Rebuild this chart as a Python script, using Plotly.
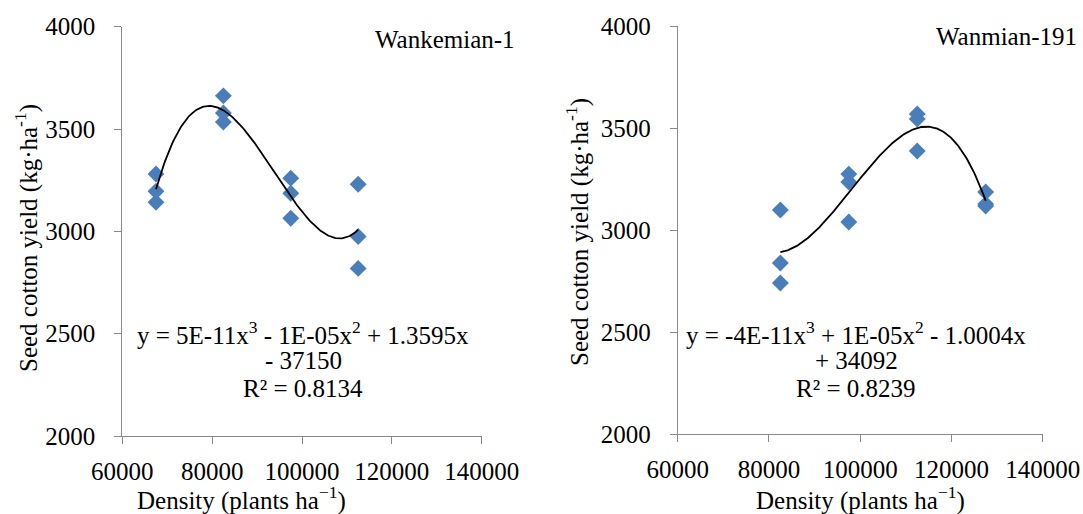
import numpy as np
import plotly.graph_objects as go

# ---- data ----
density_left = [67500, 67500, 67500, 82500, 82500, 82500, 97500, 97500, 97500, 112500, 112500, 112500]
yield_left = [3280, 3196, 3142, 3662, 3578, 3534, 3260, 3186, 3064, 3230, 2975, 2819]
density_right = [82500, 82500, 82500, 97500, 97500, 97500, 112500, 112500, 112500, 127500, 127500, 127500]
yield_right = [3098, 2838, 2740, 3274, 3235, 3039, 3569, 3544, 3387, 3186, 3127, 3118]

cultivar_left = "Wankemian-1"
cultivar_right = "Wanmian-191"
eq_left = ["y = 5E-11x<sup>3</sup> - 1E-05x<sup>2</sup> + 1.3595x", "- 37150", "R² = 0.8134"]
eq_right = ["y = -4E-11x<sup>3</sup> + 1E-05x<sup>2</sup> - 1.0004x", "+ 34092", "R² = 0.8239"]

x_ticks = [60000, 80000, 100000, 120000, 140000]
y_ticks = [2000, 2500, 3000, 3500, 4000]
x_title = "Density (plants ha<sup>−1</sup>)"
y_title = "Seed cotton yield (kg·ha<sup>-1</sup>)"

W, H = 1083, 514
FONT = "Liberation Serif"
BLUE = "#4A7EBB"
GRAY = "#898989"


def cubic_curve(xs, ys):
    xs = np.asarray(xs, float) / 1e5
    ys = np.asarray(ys, float)
    c = np.polyfit(xs, ys, 3)
    xx = np.linspace(xs.min(), xs.max(), 200)
    return xx * 1e5, np.polyval(c, xx)


fig = go.Figure()

for xs, ys, xa, ya in [(density_left, yield_left, "x", "y"), (density_right, yield_right, "x2", "y2")]:
    fig.add_trace(go.Scatter(x=xs, y=ys, mode="markers",
                             marker=dict(symbol="diamond", size=13, color=BLUE, line=dict(width=0)),
                             xaxis=xa, yaxis=ya, showlegend=False))
    cx, cy = cubic_curve(xs, ys)
    fig.add_trace(go.Scatter(x=cx, y=cy, mode="lines", line=dict(color="black", width=1.8),
                             xaxis=xa, yaxis=ya, showlegend=False, hoverinfo="skip"))

axis_common = dict(showgrid=False, zeroline=False, showline=True, linecolor=GRAY, linewidth=1,
                   ticks="outside", tickcolor=GRAY, ticklen=7, tickwidth=1,
                   tickfont=dict(family=FONT, size=25, color="black"), automargin=False)

xdom_l = [122.3 / W, 481.7 / W]
xdom_r = [677.7 / W, 1042.7 / W]
ydom_l = [1 - 436 / H, 1 - 26.7 / H]
ydom_r = [1 - 434 / H, 1 - 26 / H]

fig.update_layout(
    width=W, height=H,
    margin=dict(l=0, r=0, t=0, b=0),
    paper_bgcolor="white", plot_bgcolor="white",
    font=dict(family=FONT, size=25, color="black"),
    xaxis=dict(domain=xdom_l, range=[60000, 140000], tickvals=x_ticks, ticktext=[str(v) for v in x_ticks],
               anchor="y", ticklabelstandoff=6, **axis_common),
    yaxis=dict(domain=ydom_l, range=[2000, 4000], tickvals=y_ticks, ticktext=[str(v) for v in y_ticks],
               anchor="x", ticklabelstandoff=14, **axis_common),
    xaxis2=dict(domain=xdom_r, range=[60000, 140000], tickvals=x_ticks, ticktext=[str(v) for v in x_ticks],
                anchor="y2", ticklabelstandoff=6, **axis_common),
    yaxis2=dict(domain=ydom_r, range=[2000, 4000], tickvals=y_ticks, ticktext=[str(v) for v in y_ticks],
                anchor="x2", ticklabelstandoff=14, **axis_common),
)


def px_ann(text, px, py, size=25, angle=0):
    fig.add_annotation(text=text, x=px / W, y=1 - py / H, xref="paper", yref="paper",
                       showarrow=False, xanchor="center", yanchor="middle", textangle=angle,
                       font=dict(family=FONT, size=size, color="black"))


# axis titles
px_ann(x_title, 241.5, 498)
px_ann(x_title, 860, 498)
px_ann(y_title, 26, 238, angle=-90)
px_ann(y_title, 578, 232, angle=-90)

# cultivar labels
px_ann(cultivar_left, 444.5, 40)
px_ann(cultivar_right, 1006, 37)

# equations
for i, yy in enumerate([333, 360, 388]):
    px_ann(eq_left[i], 303, yy)
    px_ann(eq_right[i], 856, yy)

fig.write_html("out.html", config={"displayModeBar": False},
               post_script="document.body.style.margin='0';document.body.style.overflow='hidden';")
